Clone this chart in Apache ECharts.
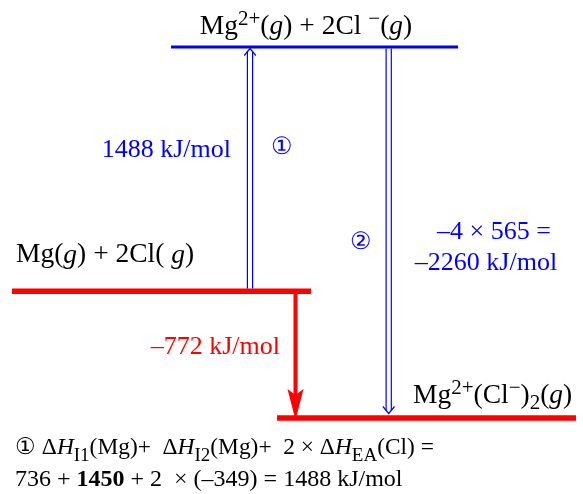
<!DOCTYPE html>
<html>
<head>
<meta charset="utf-8">
<script src="https://cdn.jsdelivr.net/npm/echarts@6/dist/echarts.min.js"></script>
<style>html,body{margin:0;padding:0;background:#fff}#c{width:583px;height:494px}</style>
</head>
<body>
<div id="c"></div>
<script>
// ---- data ----
const levelNames = ['Mg2+(g) + 2Cl−(g)', 'Mg(g) + 2Cl(g)', 'Mg2+(Cl−)2(g)'];
const levelEnergies = [1488, 0, -772];           // kJ/mol relative to Mg(g)+2Cl(g)
const stepFrom = [0, 1488, 0];
const stepTo = [1488, -772, -772];
const stepValues = [1488, -2260, -772];
const latticeCount = 4;
const latticeEach = 565;
const ie1 = 736, ie2 = 1450, ea = -349;

// ---- rich label markup ----
const levelRich = [
  '{n|Mg}{sup|2+}{n|(}{i|g}{n|) + 2Cl }{sup|−}{n|(}{i|g}{n|)}',
  '{n|Mg(}{i|g}{n|) + 2Cl( }{i|g}{n|)}',
  '{n|Mg}{sup|2+}{n|(Cl}{sup|−}{n|)}{sub|2}{n|(}{i|g}{n|)}'
];

// ---- layout / style ----
const FONT = '"Liberation Serif", "Times New Roman", serif';
const BLUE = '#0000ff', RED = '#ff0000';
const LEVEL_SPAN = [[171, 458], [12, 311], [277, 576]];
const LEVEL_STYLE = [{c: BLUE, w: 3}, {c: RED, w: 5.5}, {c: RED, w: 5.5}];
const LEVEL_LABEL = [{x: 306, dy: -20, align: 'center'}, {x: 16, dy: -36, align: 'left'}, {x: 413, dy: -22, align: 'left'}];
const ARROW = [{x: 250, kind: 'double', c: BLUE}, {x: 388.7, kind: 'double', c: BLUE}, {x: 295.5, kind: 'solid', c: RED}];

function rich(size, color, subScale) {
  const ss = subScale || 0.75;
  return {
    n: {fontFamily: FONT, fontSize: size, color: color, lineHeight: 36},
    b: {fontFamily: FONT, fontSize: size, color: color, fontWeight: 'bold', lineHeight: 36},
    i: {fontFamily: FONT, fontSize: size, color: color, fontStyle: 'italic', lineHeight: 36},
    sup: {fontFamily: FONT, fontSize: Math.round(size * 0.75), color: color, verticalAlign: 'top', lineHeight: 18},
    sub: {fontFamily: FONT, fontSize: Math.round(size * ss), color: color, verticalAlign: 'bottom', lineHeight: 27}
  };
}

const chart = echarts.init(document.getElementById('c'), null, {renderer: 'canvas'});

function txt(x, y, text, size, color, align, richSize, subScale) {
  return {type: 'text', x: x, y: y, silent: true,
    style: {text: text, rich: rich(richSize || size, color, subScale), font: size + 'px ' + FONT, fill: color,
      align: align || 'left', verticalAlign: 'middle'}};
}

const option = {
  animation: false,
  grid: {left: 0, right: 0, top: 47, bottom: 76},
  xAxis: {type: 'value', min: 0, max: 583, show: false},
  yAxis: {type: 'value', min: Math.min(...levelEnergies), max: Math.max(...levelEnergies), show: false},
  series: [
    {
      type: 'custom', clip: false, silent: true,
      data: levelEnergies.map((e, i) => [i, e]),
      encode: {x: 0, y: 1},
      renderItem: function (params, api) {
        const i = params.dataIndex, e = api.value(1);
        const p0 = api.coord([LEVEL_SPAN[i][0], e]), p1 = api.coord([LEVEL_SPAN[i][1], e]);
        const L = LEVEL_LABEL[i];
        return {type: 'group', children: [
          {type: 'line', shape: {x1: p0[0], y1: p0[1], x2: p1[0], y2: p1[1]},
            style: {stroke: LEVEL_STYLE[i].c, lineWidth: LEVEL_STYLE[i].w}},
          {type: 'text', x: L.x, y: p0[1] + L.dy,
            style: {text: levelRich[i], rich: rich(27.5, '#000', 0.75), align: L.align, verticalAlign: 'middle'}}
        ]};
      }
    },
    {
      type: 'custom', clip: false, silent: true,
      data: stepFrom.map((f, k) => [k, f, stepTo[k]]),
      encode: {x: 0, y: 1},
      renderItem: function (params, api) {
        const k = params.dataIndex, A = ARROW[k];
        const ya = api.coord([A.x, api.value(1)]), yb = api.coord([A.x, api.value(2)]);
        const x = ya[0], y1 = ya[1], y2 = yb[1];
        const d = y2 > y1 ? 1 : -1;
        const ch = [];
        if (A.kind === 'double') {
          const start = y1 + d * (d > 0 ? 1.5 : 2.8);
          const tip = y2 - d * (d > 0 ? 4.5 : 1.5);
          const back = 7, hw = 5.8;
          [-2.6, 2.6].forEach(o => ch.push({type: 'line',
            shape: {x1: x + o, y1: start, x2: x + o, y2: tip - d * 3},
            style: {stroke: A.c, lineWidth: 1.2}}));
          ch.push({type: 'polyline', shape: {points: [[x - hw, tip - d * back], [x, tip], [x + hw, tip - d * back]]},
            style: {stroke: A.c, lineWidth: 1.2, fill: null}});
        } else {
          const tip = y2 + 2, len = 31, hw = 8;
          ch.push({type: 'line', shape: {x1: x, y1: y1, x2: x, y2: tip - d * (len - 6)},
            style: {stroke: A.c, lineWidth: 4}});
          ch.push({type: 'polygon', shape: {points: [[x - hw, tip - d * len], [x, tip - d * (len - 6)], [x + hw, tip - d * len], [x, tip]]},
            style: {fill: A.c}});
        }
        return {type: 'group', children: ch};
      }
    }
  ],
  graphic: [
    txt(231, 150, '{n|' + stepValues[0] + ' kJ/mol}', 26, BLUE, 'right'),
    txt(282, 148, '{n|①}', 22, BLUE, 'center', 24),
    txt(361, 243, '{n|②}', 22, BLUE, 'center', 24),
    txt(494, 232, '{n|–' + latticeCount + ' × ' + latticeEach + ' =}', 26, BLUE, 'center'),
    txt(486, 263, '{n|–' + Math.abs(stepValues[1]) + ' kJ/mol}', 26, BLUE, 'center'),
    txt(280, 347, '{n|–' + Math.abs(stepValues[2]) + ' kJ/mol}', 26, RED, 'right'),
    txt(15, 448, '{n|① Δ}{i|H}{sub|I1}{n|(Mg)+  Δ}{i|H}{sub|I2}{n|(Mg)+  2 × Δ}{i|H}{sub|EA}{n|(Cl) =}', 23.4, '#000', 'left', 23.4, 0.8),
    txt(15, 480, '{n|' + ie1 + ' + }{b|' + ie2 + '}{n| + 2  × (–' + Math.abs(ea) + ') = ' + (ie1 + ie2 + 2 * ea) + ' kJ/mol}', 24, '#000', 'left')
  ]
};
chart.setOption(option);
</script>
</body>
</html>
